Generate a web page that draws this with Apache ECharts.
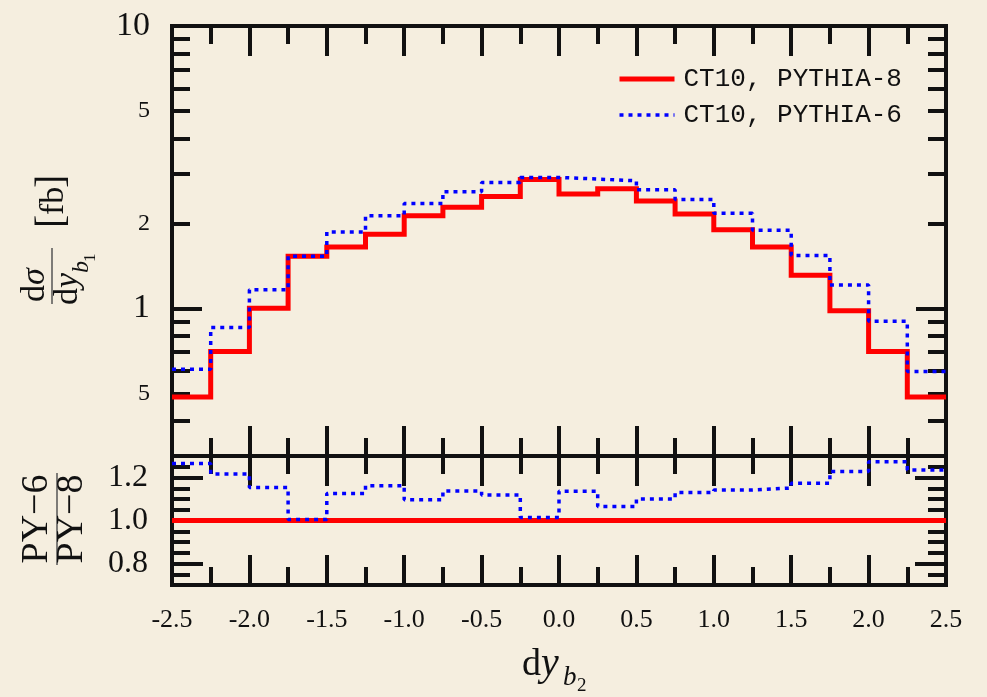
<!DOCTYPE html>
<html>
<head>
<meta charset="utf-8">
<script src="https://cdn.jsdelivr.net/npm/echarts@6/dist/echarts.min.js"></script>
<style>
  html, body { margin: 0; padding: 0; background: #f5eedf; }
  #chart { width: 987px; height: 697px; }
</style>
</head>
<body>
<div id="chart"></div>
<script>
// Bin edges of the dy_b2 histogram (20 bins of width 0.25)
const binEdges = [-2.5, -2.25, -2.0, -1.75, -1.5, -1.25, -1.0, -0.75, -0.5, -0.25,
                  0.0, 0.25, 0.5, 0.75, 1.0, 1.25, 1.5, 1.75, 2.0, 2.25, 2.5];

// dσ/dy_b1 [fb] per bin
const pythia8 = [0.485, 0.704, 1.00, 1.53, 1.65, 1.83, 2.13, 2.28, 2.49, 2.86,
                 2.54, 2.65, 2.40, 2.16, 1.90, 1.65, 1.31, 0.98, 0.704, 0.485];
const pythia6 = [0.609, 0.856, 1.165, 1.53, 1.865, 2.13, 2.35, 2.59, 2.79, 2.91,
                 2.87, 2.83, 2.63, 2.43, 2.17, 1.89, 1.54, 1.21, 0.90, 0.598];

// Ratios to PYTHIA-8
const ratio8 = [1.0, 1.0, 1.0, 1.0, 1.0, 1.0, 1.0, 1.0, 1.0, 1.0,
                1.0, 1.0, 1.0, 1.0, 1.0, 1.0, 1.0, 1.0, 1.0, 1.0];
const ratio6 = [1.265, 1.216, 1.154, 1.005, 1.126, 1.162, 1.096, 1.137, 1.119, 1.014,
                1.136, 1.065, 1.100, 1.130, 1.142, 1.151, 1.173, 1.228, 1.273, 1.235];

// Tick positions and labels
const yTopMinorTicks = [0.4, 0.5, 0.6, 0.7, 0.8, 0.9, 2, 3, 4, 5, 6, 7, 8, 9];
const yTopMajorTicks = [1];
const yTopLabelValues = [0.5, 1, 2, 5, 10];
const yTopLabelTexts = ['5', '1', '2', '5', '10'];
const yRatioMinorTicks = [0.75, 0.85, 0.9, 0.95, 1.05, 1.1, 1.15, 1.25];
const yRatioMajorTicks = [0.8, 1.0, 1.2];

const seriesNames = ['CT10, PYTHIA-8', 'CT10, PYTHIA-6'];

const INK = '#111';
const LINE_W = 4;
const SERIF = '"Liberation Serif", "Times New Roman", serif';
const RED = '#ff0000';
const BLUE = '#0000ff';
const DOTS = [4, 5];

// histogram outline: one point per bin edge, last bin value repeated at the right edge
function hist(values) {
  return binEdges.map((e, i) => [e, values[Math.min(i, values.length - 1)]]);
}

function xAxisDef(gridIndex, position, withLabels) {
  return {
    type: 'value', gridIndex, position,
    min: -2.5, max: 2.5, interval: 0.5,
    axisLine: { show: true, onZero: false, lineStyle: { color: INK, width: LINE_W, cap: 'square' } },
    axisTick: { show: true, inside: true, length: 30, lineStyle: { color: INK, width: LINE_W } },
    minorTick: { show: true, splitNumber: 2, length: 18, lineStyle: { color: INK, width: LINE_W } },
    splitLine: { show: false }, minorSplitLine: { show: false },
    axisLabel: withLabels ? {
      show: true, margin: 22, color: INK, fontFamily: SERIF, fontSize: 26,
      formatter: v => v.toFixed(1)
    } : { show: false }
  };
}

function logAxisDef(position, ticks, len, lineShow, labels) {
  return {
    type: 'log', logBase: 10, gridIndex: 0, position,
    min: 0.3, max: 10,
    axisLine: { show: lineShow, onZero: false, lineStyle: { color: INK, width: LINE_W, cap: 'square' } },
    axisTick: { show: true, inside: true, length: len, customValues: ticks,
                lineStyle: { color: INK, width: LINE_W } },
    splitLine: { show: false }, minorTick: { show: false },
    axisLabel: labels ? {
      show: true, margin: 22, customValues: yTopLabelValues,
      formatter: v => {
        const i = yTopLabelValues.findIndex(x => Math.abs(x - v) < 1e-6);
        const t = i >= 0 ? yTopLabelTexts[i] : '';
        return (t === '1' || t === '10') ? '{big|' + t + '}' : '{small|' + t + '}';
      },
      rich: {
        big: { fontFamily: SERIF, fontSize: 34, color: INK },
        small: { fontFamily: SERIF, fontSize: 24, color: INK }
      }
    } : { show: false }
  };
}

function ratioAxisDef(position, ticks, len, lineShow, labels) {
  return {
    type: 'value', gridIndex: 1, position,
    min: 0.7, max: 1.3,
    axisLine: { show: lineShow, onZero: false, lineStyle: { color: INK, width: LINE_W, cap: 'square' } },
    axisTick: { show: true, inside: true, length: len, customValues: ticks,
                lineStyle: { color: INK, width: LINE_W } },
    splitLine: { show: false }, minorTick: { show: false },
    axisLabel: labels ? {
      show: true, margin: 24, customValues: yRatioMajorTicks,
      color: INK, fontFamily: SERIF, fontSize: 32,
      formatter: v => v.toFixed(1)
    } : { show: false }
  };
}

// text placed by its baseline (canvas 'middle' sits ~0.34em above the baseline)
function txt(x, baseline, s, fs, italic, align) {
  return {
    type: 'text', x: x, y: baseline - 0.34 * fs,
    style: {
      text: s, fill: INK,
      font: (italic ? 'italic ' : '') + fs + 'px ' + SERIF,
      align: align || 'left', textAlign: align || 'left',
      verticalAlign: 'middle', textVerticalAlign: 'middle'
    }
  };
}

const chart = echarts.init(document.getElementById('chart'), null, { renderer: 'canvas' });

chart.setOption({
  animation: false,
  backgroundColor: '#f5eedf',
  grid: [
    { left: 172, right: 41, top: 26, height: 430, containLabel: false, outerBoundsMode: 'none' },
    { left: 172, right: 41, top: 456, height: 129, containLabel: false, outerBoundsMode: 'none' }
  ],
  xAxis: [
    xAxisDef(0, 'bottom', false),
    xAxisDef(0, 'top', false),
    xAxisDef(1, 'top', false),
    xAxisDef(1, 'bottom', true)
  ],
  yAxis: [
    logAxisDef('left', yTopMinorTicks, 18, true, true),
    logAxisDef('left', yTopMajorTicks, 30, false, false),
    logAxisDef('right', yTopMinorTicks, 18, true, false),
    logAxisDef('right', yTopMajorTicks, 30, false, false),
    ratioAxisDef('left', yRatioMinorTicks, 18, true, true),
    ratioAxisDef('left', yRatioMajorTicks, 31, false, false),
    ratioAxisDef('right', yRatioMinorTicks, 18, true, false),
    ratioAxisDef('right', yRatioMajorTicks, 31, false, false)
  ],
  legend: {
    data: [
      { name: seriesNames[0], lineStyle: { color: RED, width: 5 } },
      { name: seriesNames[1], lineStyle: { color: BLUE, width: 3.5, type: DOTS } }
    ],
    orient: 'vertical', left: 612, top: 61,
    itemWidth: 55, itemHeight: 14, itemGap: 10,
    selectedMode: false,
    itemStyle: { color: 'rgba(0,0,0,0)', borderColor: 'rgba(0,0,0,0)', borderWidth: 0 },
    textStyle: { fontFamily: '"Liberation Mono", monospace', fontSize: 26, color: INK,
                 padding: [0, 0, 0, 4] }
  },
  series: [
    {
      name: seriesNames[0], type: 'line', step: 'end',
      xAxisIndex: 0, yAxisIndex: 0, data: hist(pythia8),
      symbol: 'none', z: 5,
      itemStyle: { color: RED },
      lineStyle: { color: RED, width: 5, join: 'miter' }
    },
    {
      name: seriesNames[1], type: 'line', step: 'end',
      xAxisIndex: 0, yAxisIndex: 0, data: hist(pythia6),
      symbol: 'none', z: 6,
      itemStyle: { color: BLUE },
      lineStyle: { color: BLUE, width: 3.5, type: DOTS, cap: 'butt' }
    },
    {
      name: seriesNames[0], type: 'line', step: 'end',
      xAxisIndex: 3, yAxisIndex: 4, data: hist(ratio8),
      symbol: 'none', z: 5,
      itemStyle: { color: RED },
      lineStyle: { color: RED, width: 5 }
    },
    {
      name: seriesNames[1], type: 'line', step: 'end',
      xAxisIndex: 3, yAxisIndex: 4, data: hist(ratio6),
      symbol: 'none', z: 6,
      itemStyle: { color: BLUE },
      lineStyle: { color: BLUE, width: 3.5, type: DOTS, cap: 'butt' }
    }
  ],
  graphic: [
    // x-axis title: dy_{b2}
    { type: 'group', children: [
      txt(522, 678, 'd', 38, false),
      txt(541, 678, 'y', 40, true),
      txt(563, 687, 'b', 27, true),
      txt(577, 692, '2', 19, false)
    ]},
    // upper y title: dσ/dy_{b1} [fb]
    { type: 'group', x: 52, y: 276, rotation: Math.PI / 2, children: [
      { type: 'line', shape: { x1: -28, y1: 0, x2: 28, y2: 0 },
        style: { stroke: '#555', lineWidth: 1.5 } },
      txt(-26, -5, 'd', 34, false),
      txt(-9, -5, 'σ', 34, true),
      txt(-29, 28, 'd', 34, false),
      txt(-12, 28, 'y', 34, true),
      txt(3, 38, 'b', 24, true),
      txt(14, 44, '1', 17, false),
      txt(48, 14, '[', 40, false),
      txt(61, 14, 'fb', 34, false),
      txt(88, 14, ']', 40, false)
    ]},
    // lower y title: PY−6 / PY−8
    { type: 'group', x: 57, y: 519, rotation: Math.PI / 2, children: [
      { type: 'line', shape: { x1: -46, y1: 0, x2: 46, y2: 0 },
        style: { stroke: '#555', lineWidth: 1.5 } },
      txt(0, -7, 'PY−6', 38, false, 'center'),
      txt(0, 28, 'PY−8', 38, false, 'center')
    ]}
  ]
});
</script>
</body>
</html>
